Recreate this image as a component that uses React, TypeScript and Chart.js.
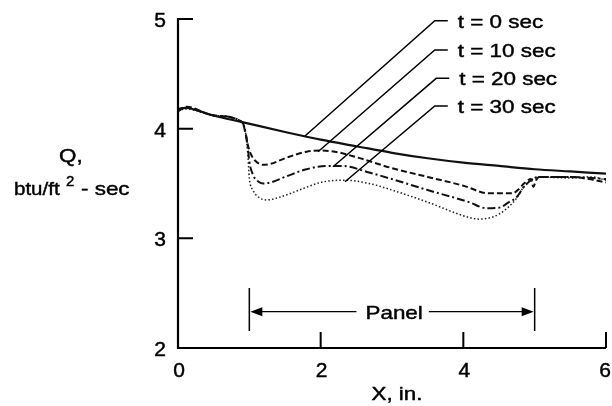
import React, { useEffect, useRef } from "react";
import { Chart, registerables } from "chart.js";

Chart.register(...registerables);

// ---------- data ----------
const xTicks = [0, 2, 4, 6];
const yTicks = [2, 3, 4, 5];
const seriesLabels = ["t = 0 sec", "t = 10 sec", "t = 20 sec", "t = 30 sec"];

const x0 = [0, 0.05, 0.12, 0.25, 0.5, 0.9, 1.5, 2, 2.5, 3, 3.5, 4, 4.5, 5, 5.5, 6];
const y0 = [4.17, 4.185, 4.19, 4.17, 4.12, 4.06, 3.97, 3.9, 3.84, 3.78, 3.73, 3.69, 3.66, 3.63, 3.61, 3.59];

const x10 = [0, 0.12, 0.5, 0.9, 0.95, 0.98, 1.02, 1.08, 1.19, 1.3, 1.5, 1.8, 2.0, 2.2, 2.5, 3.0, 3.5, 4.0, 4.36, 4.69, 4.78, 4.85, 4.95, 4.98, 5.02, 5.06, 5.3, 5.5, 5.76, 6];
const y10 = [4.16, 4.2, 4.12, 4.06, 3.95, 3.85, 3.77, 3.71, 3.67, 3.68, 3.73, 3.79, 3.8, 3.79, 3.74, 3.64, 3.56, 3.48, 3.41, 3.41, 3.45, 3.5, 3.54, 3.47, 3.53, 3.56, 3.56, 3.56, 3.54, 3.51];

const x20 = [0, 0.12, 0.5, 0.9, 0.95, 0.98, 1.0, 1.05, 1.12, 1.19, 1.3, 1.5, 1.8, 2.1, 2.3, 2.68, 3.0, 3.5, 4.08, 4.32, 4.5, 4.64, 4.74, 4.85, 4.95, 5.06, 5.5, 5.8, 6];
const y20 = [4.18, 4.19, 4.12, 4.06, 3.95, 3.82, 3.7, 3.58, 3.52, 3.5, 3.51, 3.56, 3.63, 3.66, 3.66, 3.6, 3.54, 3.44, 3.33, 3.275, 3.28, 3.33, 3.37, 3.47, 3.53, 3.56, 3.56, 3.55, 3.54];

const x30 = [0, 0.12, 0.5, 0.9, 0.95, 0.98, 1.0, 1.05, 1.12, 1.24, 1.4, 1.7, 2.0, 2.33, 2.68, 3.0, 3.5, 4.08, 4.22, 4.36, 4.5, 4.64, 4.74, 4.85, 4.95, 5.06, 5.5, 5.8, 6];
const y30 = [4.17, 4.18, 4.12, 4.06, 3.95, 3.75, 3.55, 3.44, 3.38, 3.35, 3.37, 3.44, 3.51, 3.53, 3.5, 3.44, 3.33, 3.19, 3.175, 3.185, 3.22, 3.29, 3.36, 3.47, 3.53, 3.56, 3.55, 3.56, 3.53];

// leader lines (data units): corner near label, end on curve
const leaderCornerX = [3.6, 3.6, 3.62, 3.6];
const leaderCornerY = [4.984, 4.717, 4.459, 4.207];
const leaderEndX = [1.78, 1.963, 2.173, 2.341];
const leaderEndY = [3.933, 3.79, 3.653, 3.516];

const panelStart = 1;
const panelEnd = 5;
const panelLabel = "Panel";
const xTitle = "X, in.";
const yTitleTop = "Q,";
const yTitleUnit = "btu/ft";
const yTitleSup = "2";
const yTitleRest = "- sec";

const FONT = "'Liberation Sans', Arial, Helvetica, sans-serif";
const SX = 1.18;

function pts(xs: number[], ys: number[]) {
  return xs.map((x, i) => ({ x, y: ys[i] }));
}

function txt(ctx: CanvasRenderingContext2D, s: string, x: number, y: number, align: CanvasTextAlign = "left", sx = SX) {
  ctx.save();
  ctx.translate(x, y);
  ctx.scale(sx, 1);
  ctx.textAlign = align;
  ctx.textBaseline = "alphabetic";
  ctx.lineWidth = 0.45;
  ctx.strokeStyle = "#000";
  ctx.fillText(s, 0, 0);
  ctx.strokeText(s, 0, 0);
  ctx.restore();
}

const decorPlugin = {
  id: "decor",
  afterDraw(chart: any) {
    const ctx: CanvasRenderingContext2D = chart.ctx;
    const xs = chart.scales.x;
    const ys = chart.scales.y;
    const area = chart.chartArea;
    const W = chart.width;
    const px = (v: number) => xs.getPixelForValue(v);
    const py = (v: number) => ys.getPixelForValue(v);
    ctx.save();
    ctx.strokeStyle = "#000";
    ctx.fillStyle = "#000";
    ctx.lineCap = "butt";

    // axes
    ctx.lineWidth = 2.2;
    ctx.beginPath();
    ctx.moveTo(area.left, py(5) - 1);
    ctx.lineTo(area.left, area.bottom);
    ctx.lineTo(area.right, area.bottom);
    ctx.stroke();

    // inward ticks
    const TL = 15;
    ctx.lineWidth = 2;
    ctx.beginPath();
    yTicks.forEach((v) => {
      if (v === yTicks[0]) return;
      ctx.moveTo(area.left, py(v));
      ctx.lineTo(area.left + TL, py(v));
    });
    xTicks.forEach((v) => {
      if (v === xTicks[0]) return;
      ctx.moveTo(px(v), area.bottom);
      ctx.lineTo(px(v), area.bottom - TL - 1);
    });
    ctx.stroke();

    // tick labels
    ctx.font = `20px ${FONT}`;
    yTicks.forEach((v) => {
      txt(ctx, String(v), area.left - 12, py(v) + 8, "right", 1.05);
    });
    xTicks.forEach((v) => {
      txt(ctx, String(v), Math.min(px(v) + 1, W - 7), area.bottom + 29, "center", 1.05);
    });

    // leader lines & labels
    ctx.font = `19px ${FONT}`;
    seriesLabels.forEach((lab, i) => {
      const cx = px(leaderCornerX[i]);
      const cy = py(leaderCornerY[i]);
      ctx.lineWidth = 1.5;
      ctx.beginPath();
      ctx.moveTo(px(leaderEndX[i]), py(leaderEndY[i]));
      ctx.lineTo(cx, cy);
      ctx.lineTo(cx + 13, cy);
      ctx.stroke();
      txt(ctx, lab, cx + 23, cy + 7);
    });

    // panel bracket
    const pl = px(panelStart);
    const pr = px(panelEnd);
    const yTop = py(2.547);
    const yBot = py(2.155);
    const yMid = py(2.331);
    ctx.lineWidth = 1.5;
    ctx.beginPath();
    ctx.moveTo(pl, yTop);
    ctx.lineTo(pl, yBot);
    ctx.moveTo(pr, yTop);
    ctx.lineTo(pr, yBot);
    ctx.stroke();
    ctx.font = `19px ${FONT}`;
    const tcx = px((panelStart + panelEnd) / 2 + 0.03);
    const tw = ctx.measureText(panelLabel).width * SX;
    txt(ctx, panelLabel, tcx, yMid + 7, "center");
    ctx.lineWidth = 1.3;
    ctx.beginPath();
    ctx.moveTo(pl + 8, yMid);
    ctx.lineTo(tcx - tw / 2 - 9, yMid);
    ctx.moveTo(tcx + tw / 2 + 6, yMid);
    ctx.lineTo(pr - 8, yMid);
    ctx.stroke();
    ctx.beginPath();
    ctx.moveTo(pl + 1, yMid);
    ctx.lineTo(pl + 13, yMid - 4.5);
    ctx.lineTo(pl + 13, yMid + 4.5);
    ctx.closePath();
    ctx.moveTo(pr - 1, yMid);
    ctx.lineTo(pr - 13, yMid - 4.5);
    ctx.lineTo(pr - 13, yMid + 4.5);
    ctx.closePath();
    ctx.fill();

    // x title
    ctx.font = `19px ${FONT}`;
    txt(ctx, xTitle, (area.left + area.right) / 2 + 5, 400, "center");

    // y title
    txt(ctx, yTitleTop, 59, 162, "left");
    txt(ctx, yTitleUnit, 14, 195, "left", 1.08);
    ctx.font = `15px ${FONT}`;
    txt(ctx, yTitleSup, 66, 186, "left", 1);
    ctx.font = `19px ${FONT}`;
    txt(ctx, yTitleRest, 81, 195, "left");
    ctx.restore();
  },
};

export default function App() {
  const ref = useRef<HTMLCanvasElement | null>(null);
  useEffect(() => {
    if (!ref.current) return;
    const common = { pointRadius: 0, fill: false, cubicInterpolationMode: "monotone" as const };
    const chart = new Chart(ref.current, {
      type: "line",
      data: {
        datasets: [
          { ...common, label: seriesLabels[0], data: pts(x0, y0), borderColor: "#111", borderWidth: 2.2 },
          { ...common, label: seriesLabels[1], data: pts(x10, y10), borderColor: "#111", borderWidth: 2, borderDash: [6, 3] },
          { ...common, label: seriesLabels[2], data: pts(x20, y20), borderColor: "#111", borderWidth: 2, borderDash: [8, 3, 2, 3] },
          { ...common, label: seriesLabels[3], data: pts(x30, y30), borderColor: "#222", borderWidth: 1.5, borderDash: [1.5, 2.2] },
        ],
      },
      options: {
        animation: false,
        responsive: false,
        events: [],
        layout: { padding: { top: 19, right: 6, left: 0, bottom: 0 } },
        plugins: { legend: { display: false }, tooltip: { enabled: false }, title: { display: false } },
        scales: {
          x: {
            type: "linear",
            min: 0,
            max: 6,
            grid: { display: false },
            border: { display: false },
            afterBuildTicks: (s: any) => {
              s.ticks = xTicks.map((v) => ({ value: v }));
            },
            afterFit: (s: any) => {
              s.height = 58;
            },
            ticks: { display: false },
          },
          y: {
            type: "linear",
            min: 2,
            max: 5,
            grid: { display: false },
            border: { display: false },
            afterBuildTicks: (s: any) => {
              s.ticks = yTicks.map((v) => ({ value: v }));
            },
            afterFit: (s: any) => {
              s.width = 178;
            },
            ticks: { display: false },
          },
        },
      },
      plugins: [decorPlugin],
    });
    return () => chart.destroy();
  }, []);
  return (
    <div style={{ position: "absolute", left: 0, top: 0, width: 612, height: 406, background: "#fff" }}>
      <canvas ref={ref} width={612} height={406} style={{ display: "block" }} />
    </div>
  );
}
